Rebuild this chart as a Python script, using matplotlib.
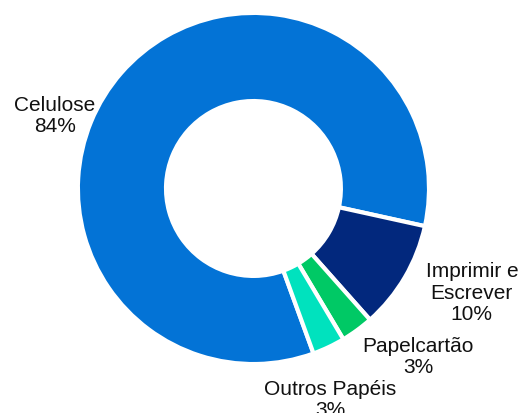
import matplotlib
matplotlib.use("Agg")
from matplotlib import pyplot as plt

plt.rcParams['font.family'] = ['Liberation Sans', 'DejaVu Sans']

categories = ["Celulose", "Imprimir e\nEscrever", "Papelcartão", "Outros Papéis"]
shares = [84, 10, 3, 3]
colors = ["#0373D6", "#02287D", "#00C965", "#00E2BE"]

# label anchors (pie units, centre = 0,0)
label_xy = [(-1.144, 0.424), (1.259, -0.597), (0.948, -0.965), (0.441, -1.212)]

fig = plt.figure(figsize=(5.22, 4.14), dpi=100)
ax = fig.add_axes([0, 0, 1, 1])

ax.pie(
    shares,
    colors=colors,
    startangle=-70,
    counterclock=False,
    radius=1.012,
    wedgeprops=dict(width=0.508, edgecolor="white", linewidth=3),
)

for name, val, (x, y) in zip(categories, shares, label_xy):
    ax.text(x, y, f"{name}\n{val}%", ha="center", va="center",
            fontsize=15, color="#111111", linespacing=1.15)

ax.set_xlim(-1.461, 1.548)
ax.set_ylim(-1.294, 1.092)
ax.set_aspect("equal")
ax.axis("off")

fig.savefig("out.png", dpi=100, facecolor="white")
